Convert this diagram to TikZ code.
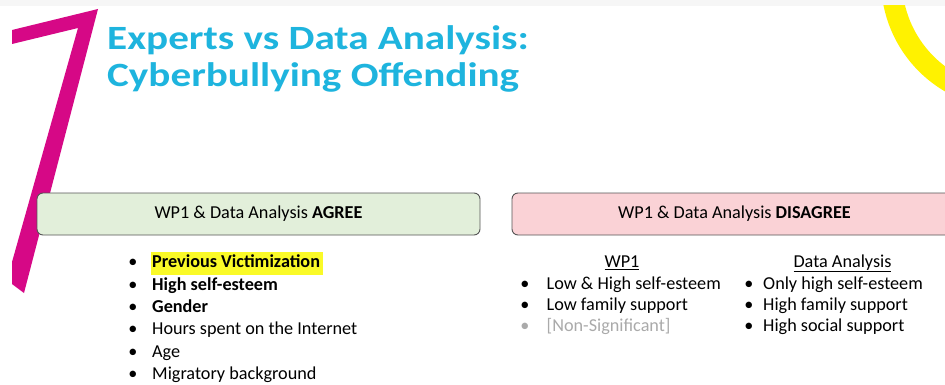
\documentclass[tikz,border=0pt]{standalone}
\usepackage{fontspec}
\setmainfont{Carlito}
\definecolor{titlecyan}{RGB}{30,180,222}
\definecolor{magentabar}{RGB}{214,8,134}
\definecolor{agreefill}{RGB}{226,239,218}
\definecolor{disfill}{RGB}{250,210,214}
\definecolor{boxline}{RGB}{85,85,85}
\definecolor{hilite}{RGB}{250,250,40}
\definecolor{nonsig}{RGB}{170,170,170}
\definecolor{topstrip}{RGB}{246,246,246}
\tikzset{
  titletext/.style={anchor=base west, inner sep=0pt, text=titlecyan, font=\fontsize{34}{40}\selectfont\bfseries},
  headbox/.style={draw=boxline, line width=0.9pt, rounded corners=6pt, minimum height=42pt, inner sep=0pt, font=\fontsize{18.2}{22}\selectfont},
  itemtext/.style={anchor=base west, inner sep=0pt, font=\fontsize{18.2}{22}\selectfont},
  bul/.style={anchor=base, inner sep=0pt, font=\fontsize{18.2}{22}\selectfont},
}
\begin{document}
\begin{tikzpicture}[x=1pt,y=-1pt]
\useasboundingbox (0,0) rectangle (945,385);
\fill[white] (0,0) rectangle (945,385);
\fill[topstrip] (0,0) rectangle (945,6);
\begin{scope}
\clip (0,6) rectangle (945,385);
% magenta seven
\fill[magentabar] (12,30) -- (98,9) -- (24,293) -- (12,284) -- (12,262) -- (78,28) -- (12,44) -- cycle;
% yellow arc
\draw[yellow, line width=21pt] (1010,-20) circle[radius=118.5];
\end{scope}
% title
\node[titletext] (t1) at (107,49.3) {\scalebox{1.21}[1]{Experts vs Data Analysis:}};
\node[titletext] (t2) at (107,86.7) {\scalebox{1.21}[1]{Cyberbullying Offending}};
% header boxes
\node[headbox, fill=agreefill, minimum width=443pt] (agree) at (258.5,214) {WP1 \& Data Analysis \textbf{AGREE}};
\node[headbox, fill=disfill, minimum width=445pt] (dis) at (734.5,214) {WP1 \& Data Analysis \textbf{DISAGREE}};
% agree list
\fill[hilite] (151,252) rectangle (323,275);
\foreach \y [count=\i] in {267.8,290.1,312.4,334.7,357,379.3}{
  \node[bul] (ab\i) at (133,\y) {•};
}
\node[itemtext] (a1) at (152,267.8) {\textbf{Previous Victimization}};
\node[itemtext] (a2) at (152,290.1) {\textbf{High self-esteem}};
\node[itemtext] (a3) at (152,312.4) {\textbf{Gender}};
\node[itemtext] (a4) at (152,334.7) {Hours spent on the Internet};
\node[itemtext] (a5) at (152,357) {Age};
\node[itemtext] (a6) at (152,379.3) {Migratory background};
% disagree columns
\node[bul] (hwp) at (622,267.3) {\underline{WP1}};
\node[bul] (hda) at (842.5,267.3) {\underline{Data Analysis}};
\node[bul] (lb1) at (525,289) {•};
\node[bul] (lb2) at (525,310) {•};
\node[bul, text=nonsig] (lb3) at (525,331) {•};
\node[itemtext] (l1) at (546.5,289) {Low \& High self-esteem};
\node[itemtext] (l2) at (546.5,310) {Low family support};
\node[itemtext, text=nonsig] (l3) at (546.5,331) {[Non-Significant]};
\node[bul] (rb1) at (749,289) {•};
\node[bul] (rb2) at (749,310) {•};
\node[bul] (rb3) at (749,331) {•};
\node[itemtext] (r1) at (763,289) {Only high self-esteem};
\node[itemtext] (r2) at (763,310) {High family support};
\node[itemtext] (r3) at (763,331) {High social support};
\end{tikzpicture}
\end{document}
